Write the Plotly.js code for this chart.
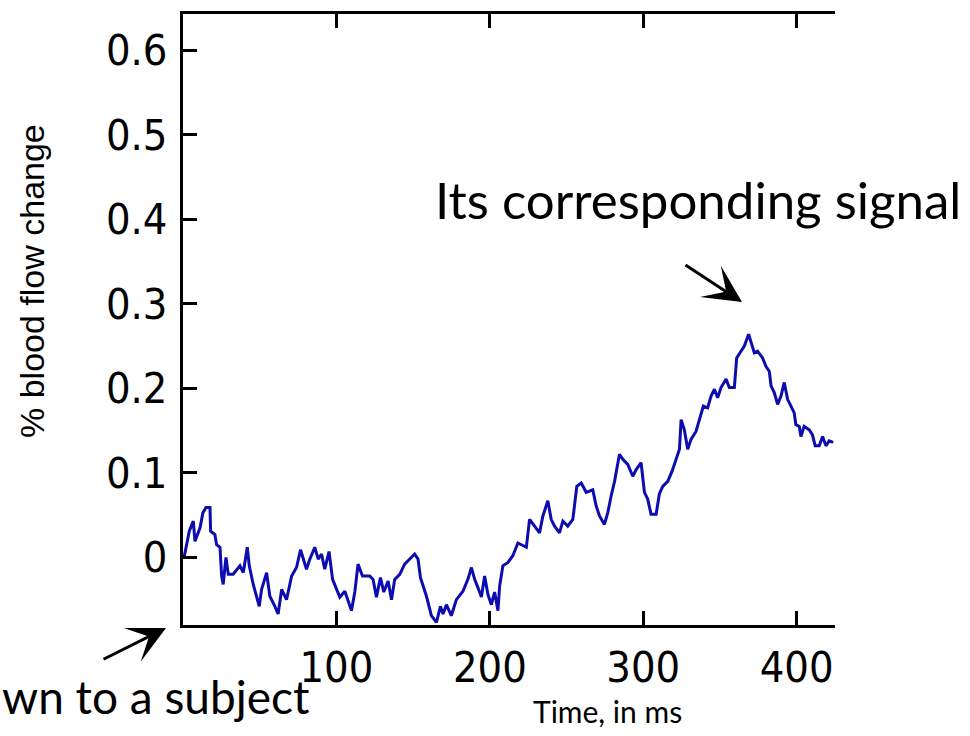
<!DOCTYPE html>
<html>
<head>
<meta charset="utf-8">
<script src="https://cdn.plot.ly/plotly-3.0.1.min.js"></script>
<style>html,body{margin:0;padding:0;background:#fff;}#chart{width:970px;height:736px;}</style>
</head>
<body>
<div id="chart"></div>
<script>
// Time (ms)
const timeMs = [0.7,4.1,6.7,7.8,11.1,13.0,15.0,17.6,18.0,20.8,21.9,24.1,25.2,26.2,28.0,29.5,32.7,37.1,39.3,41.9,43.2,45.8,49.7,51.2,54.5,56.6,59.9,62.0,64.3,67.5,70.8,74.0,76.6,78.3,80.5,82.7,85.9,88.1,90.3,92.4,95.2,97.5,100.1,102.2,105.5,109.8,112.0,114.1,117.0,121.7,123.9,126.1,128.7,130.9,133.7,135.9,138.0,141.3,144.5,147.8,151.0,153.2,154.8,158.7,161.9,165.2,167.8,169.5,171.7,174.9,178.2,182.5,185.7,188.0,190.1,192.3,194.5,196.6,198.8,201.0,203.1,205.3,206.4,208.5,211.8,215.0,218.3,223.8,225.9,229.2,232.4,234.6,237.8,240.0,242.2,245.4,247.6,250.8,254.1,256.7,259.6,262.8,267.1,269.3,271.5,274.7,276.9,279.1,281.3,284.5,286.7,289.9,293.2,295.4,298.6,300.8,302.9,305.1,308.4,310.5,312.7,316.0,318.8,321.4,323.6,324.7,326.8,329.0,331.2,334.4,337.0,339.2,342.0,344.2,346.4,348.5,350.7,354.0,356.1,359.4,360.9,363.7,365.9,368.7,370.2,372.4,374.5,377.8,380.0,382.2,383.3,385.4,387.6,389.8,391.9,394.1,396.3,398.4,399.5,401.7,402.8,404.9,408.2,410.3,412.1,414.7,416.9,419.1,421.2,423.8];
// % blood flow change
const flowChange = [0.0,0.031,0.043,0.019,0.035,0.053,0.059,0.059,0.031,0.027,0.015,0.012,-0.022,-0.032,0.0,-0.02,-0.02,-0.01,-0.018,0.012,-0.01,-0.032,-0.058,-0.038,-0.018,-0.046,-0.058,-0.067,-0.038,-0.05,-0.022,-0.012,0.009,0.0,-0.014,-0.002,0.012,-0.002,0.004,-0.014,0.007,-0.026,-0.038,-0.047,-0.04,-0.063,-0.041,-0.008,-0.022,-0.022,-0.026,-0.047,-0.024,-0.041,-0.028,-0.05,-0.026,-0.02,-0.008,-0.002,0.004,-0.002,-0.024,-0.046,-0.069,-0.077,-0.058,-0.067,-0.056,-0.069,-0.05,-0.04,-0.026,-0.012,-0.026,-0.036,-0.047,-0.022,-0.044,-0.056,-0.041,-0.063,-0.034,-0.01,-0.006,0.002,0.017,0.012,0.045,0.037,0.029,0.049,0.067,0.045,0.037,0.029,0.043,0.037,0.045,0.084,0.088,0.077,0.080,0.061,0.049,0.039,0.053,0.073,0.09,0.122,0.116,0.110,0.096,0.104,0.112,0.077,0.069,0.051,0.051,0.075,0.084,0.09,0.102,0.116,0.128,0.163,0.151,0.128,0.140,0.149,0.167,0.179,0.177,0.191,0.199,0.189,0.201,0.211,0.201,0.201,0.236,0.244,0.25,0.264,0.256,0.242,0.244,0.236,0.226,0.220,0.203,0.195,0.181,0.191,0.207,0.187,0.179,0.171,0.157,0.155,0.143,0.155,0.151,0.145,0.132,0.132,0.143,0.132,0.138,0.136];

const xTickVals = [100, 200, 300, 400];
const yTickVals = [0, 0.1, 0.2, 0.3, 0.4, 0.5, 0.6];
const yTickText = ['0', '0.1', '0.2', '0.3', '0.4', '0.5', '0.6'];
const xRange = [0, 425];
const yRange = [-0.08, 0.643];

const yTitle = '% blood flow change';
const xTitle = 'Time, in ms';
const noteTop = 'Its corresponding signal';
const noteBottom = 'wn to a subject';

const W = 970, H = 736;
const L = 183, R = 835, T = 14, B = 625;
const px = v => (v - L) / (R - L);
const py = v => (B - v) / (B - T);

const tickFont = {family: 'Liberation Sans Narrow, DejaVu Sans Condensed, Liberation Sans, Arial, sans-serif', size: 43, color: '#000'};
const noteFont = {family: 'Lato, Open Sans, sans-serif', size: 51, color: '#000'};

const trace = {
  x: timeMs, y: flowChange, type: 'scatter', mode: 'lines',
  line: {color: '#0c0cb0', width: 3}, hoverinfo: 'skip'
};

const layout = {
  width: W, height: H,
  margin: {l: L, r: W - R, t: T, b: H - B, pad: 0},
  paper_bgcolor: '#fff', plot_bgcolor: '#fff',
  showlegend: false,
  xaxis: {
    range: xRange, tickvals: xTickVals, ticks: 'inside', ticklen: 14, tickwidth: 3, tickcolor: '#000',
    showline: true, linewidth: 3, linecolor: '#000', mirror: 'ticks', showgrid: false, zeroline: false,
    tickfont: tickFont, ticklabelstandoff: 2
  },
  yaxis: {
    range: yRange, tickvals: yTickVals, ticktext: yTickText, ticks: 'inside', ticklen: 14, tickwidth: 3, tickcolor: '#000',
    showline: true, linewidth: 3, linecolor: '#000', showgrid: false, zeroline: false,
    tickfont: tickFont, ticklabelstandoff: 4
  },
  annotations: [
    {xref: 'paper', yref: 'paper', x: px(32), y: py(281), text: yTitle, textangle: -90, showarrow: false,
     font: {family: 'Liberation Sans, Arial, sans-serif', size: 34, color: '#000'}, xanchor: 'center', yanchor: 'middle'},
    {xref: 'paper', yref: 'paper', x: px(607), y: py(711), text: xTitle, showarrow: false,
     font: {family: 'Lato, Open Sans, sans-serif', size: 30, color: '#000'}, xanchor: 'center', yanchor: 'middle'},
    {xref: 'paper', yref: 'paper', x: px(963), y: py(199), text: noteTop, showarrow: false,
     font: noteFont, xanchor: 'right', yanchor: 'middle'},
    {xref: 'paper', yref: 'paper', x: px(0), y: py(696), text: noteBottom, showarrow: false,
     font: {family: 'Lato, Open Sans, sans-serif', size: 46, color: '#000'}, xanchor: 'left', yanchor: 'middle'},
    {xref: 'paper', yref: 'paper', x: px(742), y: py(302), ax: -58, ay: -38, text: '', showarrow: true,
     arrowhead: 3, arrowsize: 2.1, arrowwidth: 3, arrowcolor: '#000'},
    {xref: 'paper', yref: 'paper', x: px(166), y: py(628), ax: -64, ay: 32, text: '', showarrow: true,
     arrowhead: 3, arrowsize: 2.1, arrowwidth: 3, arrowcolor: '#000'}
  ]
};

Plotly.newPlot('chart', [trace], layout, {displayModeBar: false, staticPlot: true});
</script>
</body>
</html>
